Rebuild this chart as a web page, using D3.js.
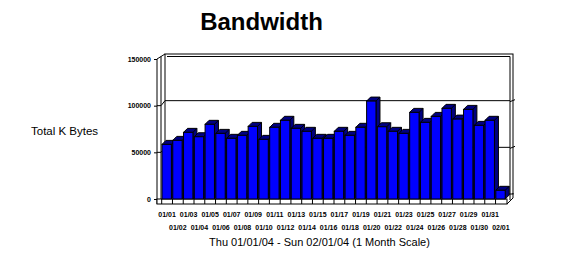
<!DOCTYPE html>
<html>
<head>
<meta charset="utf-8">
<script src="https://cdn.jsdelivr.net/npm/d3@7"></script>
<style>
  body { margin: 0; background: #fff; }
  svg { display: block; font-family: "Liberation Sans", Arial, sans-serif; }
  .tick-label { font-size: 7px; font-weight: bold; fill: #000; }
</style>
</head>
<body>
<div id="chart"></div>
<script>
const dates = ["01/01", "01/02", "01/03", "01/04", "01/05", "01/06", "01/07", "01/08",
  "01/09", "01/10", "01/11", "01/12", "01/13", "01/14", "01/15", "01/16",
  "01/17", "01/18", "01/19", "01/20", "01/21", "01/22", "01/23", "01/24",
  "01/25", "01/26", "01/27", "01/28", "01/29", "01/30", "01/31", "02/01"];

const totalKBytes = [58500, 62800, 71400, 66700, 80000, 70300, 65000, 68200,
  77800, 63900, 76800, 84300, 75700, 72500, 65000, 65000,
  72500, 68200, 76800, 104900, 77400, 72500, 70300, 92800,
  82100, 88500, 97100, 85600, 96000, 78900, 84300, 9300];

const yTicks = [0, 50000, 100000, 150000];

const width = 562;
const height = 259;

// front plane of the box
const plot = { left: 157, right: 507, top: 59, bottom: 199, floor: 204 };
// offset from front plane to back wall
const depth = { dx: 8, dy: -5 };
// bar depth
const barDepth = { dx: 4, dy: -4 };

const svg = d3.select("#chart")
  .append("svg")
  .attr("width", width)
  .attr("height", height);

const xScale = d3.scaleBand()
  .domain(dates)
  .range([161.7, 506.3])
  .padding(0);

const yScale = d3.scaleLinear()
  .domain([0, 150000])
  .range([plot.bottom, plot.top]);

const bl = plot.left + depth.dx;
const br = plot.right + 6;
const wallTop = yScale(150000) + depth.dy;

// back wall
svg.append("rect")
  .attr("x", bl)
  .attr("y", wallTop)
  .attr("width", br - bl)
  .attr("height", plot.bottom - yScale(150000))
  .attr("fill", "#fff")
  .attr("stroke", "#000");

svg.append("line")
  .attr("x1", bl + 2).attr("x2", br - 3)
  .attr("y1", wallTop + 2.5).attr("y2", wallTop + 2.5)
  .attr("stroke", "#000");

// left wall
svg.append("polyline")
  .attr("points", [[plot.left, plot.floor], [plot.left, yScale(150000)], [bl, wallTop]].join(" "))
  .attr("fill", "none")
  .attr("stroke", "#000");

svg.append("line")
  .attr("x1", plot.left + 4).attr("x2", plot.left + 4)
  .attr("y1", yScale(150000) - 2.5).attr("y2", plot.floor)
  .attr("stroke", "#000");

// right wall
svg.append("line")
  .attr("x1", br - 3).attr("x2", br - 3)
  .attr("y1", wallTop + 2.5).attr("y2", plot.bottom + 1)
  .attr("stroke", "#000");

// gridlines on walls
const gridValues = yTicks.filter(d => d > 0 && d < 150000);

svg.selectAll(".grid")
  .data(gridValues)
  .enter()
  .append("polyline")
  .attr("class", "grid")
  .attr("points", function(d) {
    const yf = yScale(d);
    const yb = yf + depth.dy;
    return [[plot.left, yf], [plot.left + 4, yf], [bl, yb], [br - 3, yb]].join(" ");
  })
  .attr("fill", "none")
  .attr("stroke", "#000");

svg.selectAll(".grid-end")
  .data(gridValues)
  .enter()
  .append("line")
  .attr("class", "grid-end")
  .attr("x1", br - 3)
  .attr("x2", br + 2)
  .attr("y1", d => yScale(d) + depth.dy + 1)
  .attr("y2", d => yScale(d) + depth.dy - 1)
  .attr("stroke", "#000");

// floor slab
svg.append("rect")
  .attr("x", plot.left)
  .attr("y", plot.bottom)
  .attr("width", plot.right - plot.left)
  .attr("height", plot.floor - plot.bottom)
  .attr("fill", "#fff")
  .attr("stroke", "#000");

svg.append("polyline")
  .attr("points", [[plot.right, plot.floor], [br, plot.bottom - 1], [br, plot.bottom - 6]].join(" "))
  .attr("fill", "none")
  .attr("stroke", "#000");

svg.selectAll(".floor-tick")
  .data(dates)
  .enter()
  .append("line")
  .attr("x1", d => xScale(d))
  .attr("x2", d => xScale(d))
  .attr("y1", plot.bottom)
  .attr("y2", plot.floor)
  .attr("stroke", "#000");

// bars
const bars = svg.selectAll(".bar")
  .data(dates.map((d, i) => ({ date: d, value: totalKBytes[i] })))
  .enter()
  .append("g")
  .attr("class", "bar");

const bw = xScale.bandwidth() - 1.4;

bars.append("path")
  .attr("d", function(d) {
    const x0 = xScale(d.date) + 0.3;
    const x1 = x0 + bw;
    const y0 = yScale(d.value);
    const y1 = yScale(0);
    return `M${x1},${y1} L${x1},${y0} L${x0},${y0} L${x0 + barDepth.dx},${y0 + barDepth.dy}` +
      ` L${x1 + barDepth.dx},${y0 + barDepth.dy} L${x1 + barDepth.dx},${y1 + barDepth.dy} Z`;
  })
  .attr("fill", "#000080")
  .attr("stroke", "#000")
  .attr("stroke-width", 1)
  .attr("stroke-linejoin", "round");

bars.append("line")
  .attr("x1", d => xScale(d.date) + 0.3 + bw)
  .attr("y1", d => yScale(d.value))
  .attr("x2", d => xScale(d.date) + 0.3 + bw + barDepth.dx)
  .attr("y2", d => yScale(d.value) + barDepth.dy)
  .attr("stroke", "#000");

bars.append("rect")
  .attr("x", d => xScale(d.date) + 0.3)
  .attr("y", d => yScale(d.value))
  .attr("width", bw)
  .attr("height", d => yScale(0) - yScale(d.value))
  .attr("fill", "#0000ff")
  .attr("stroke", "#000")
  .attr("stroke-width", 1);

// Y axis
const yAxis = svg.append("g")
  .attr("transform", `translate(${plot.left}, 0)`)
  .call(d3.axisLeft(yScale).tickValues(yTicks).tickSize(3).tickPadding(3).tickFormat(d3.format("d")));

yAxis.select(".domain").remove();
yAxis.selectAll("line").attr("stroke", "#000");
yAxis.selectAll("text")
  .attr("class", "tick-label")
  .style("font-family", "'Liberation Sans', Arial, sans-serif")
  .attr("fill", "#000");

// X labels, two alternating rows
svg.selectAll(".x-label")
  .data(dates)
  .enter()
  .append("text")
  .attr("class", "tick-label")
  .attr("x", d => xScale(d) + xScale.bandwidth() / 2)
  .attr("y", (d, i) => i % 2 === 0 ? 216.5 : 229.5)
  .attr("text-anchor", "middle")
  .text(d => d);

// Title
svg.append("text")
  .attr("x", 261.5)
  .attr("y", 30)
  .attr("text-anchor", "middle")
  .style("font-size", "24px")
  .style("font-weight", "bold")
  .text("Bandwidth");

// Y title
svg.append("text")
  .attr("x", 31)
  .attr("y", 135)
  .style("font-size", "11.5px")
  .text("Total K Bytes");

// X title
svg.append("text")
  .attr("x", 319.5)
  .attr("y", 246)
  .attr("text-anchor", "middle")
  .style("font-size", "11px")
  .text("Thu 01/01/04 - Sun 02/01/04 (1 Month Scale)");
</script>
</body>
</html>
